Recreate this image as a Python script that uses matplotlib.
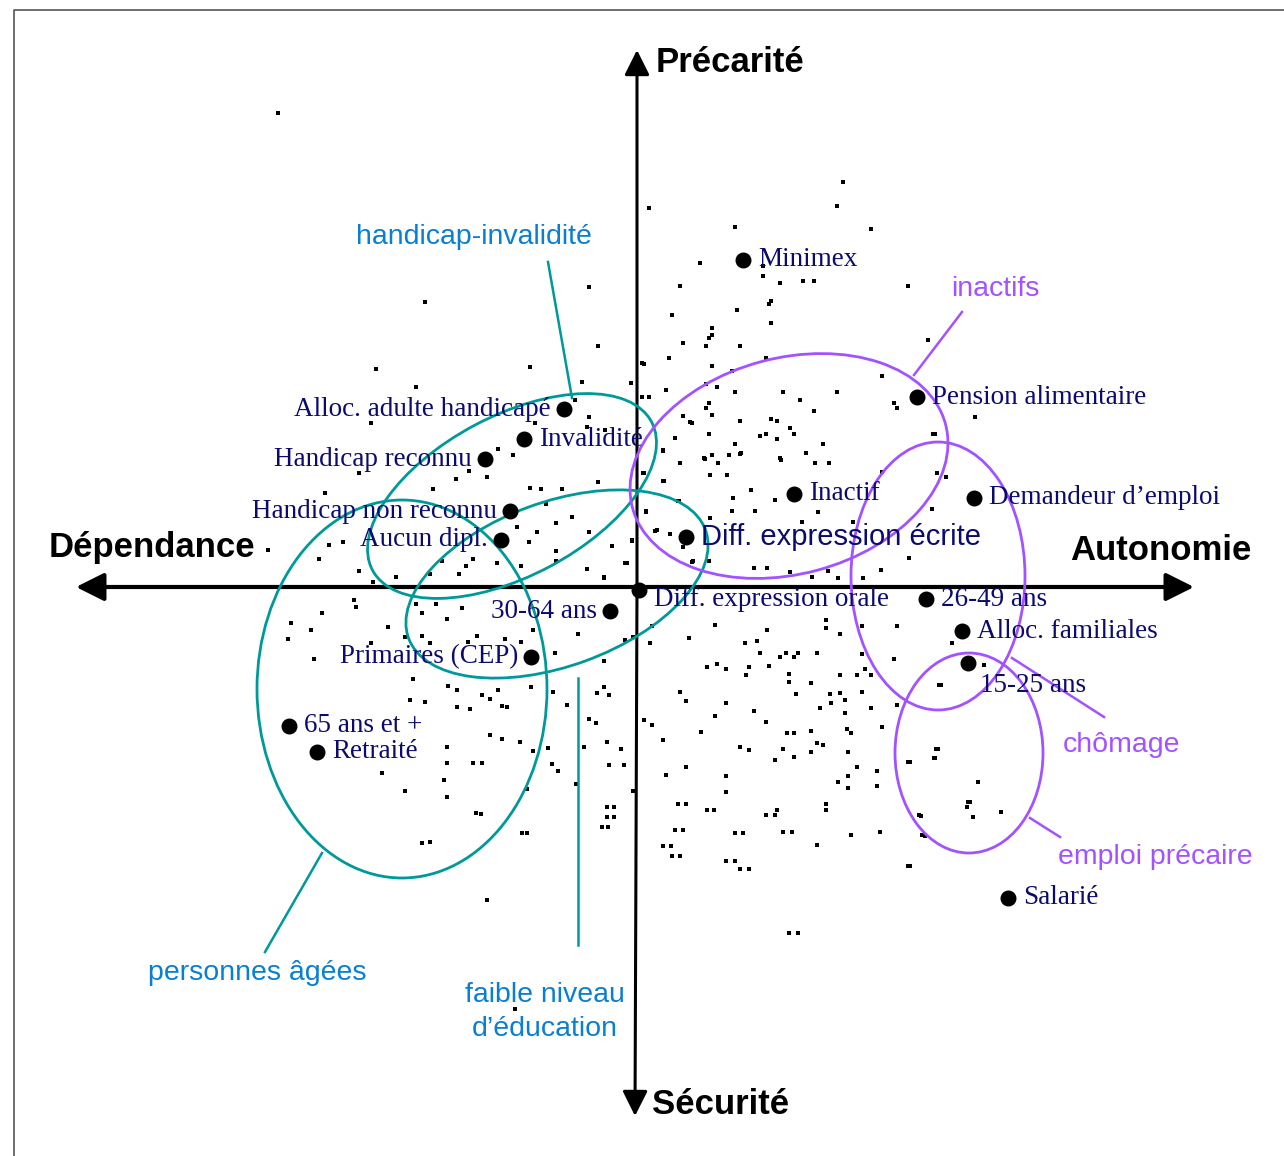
import numpy as np
import matplotlib
matplotlib.use('Agg')
import matplotlib.pyplot as plt
from matplotlib.patches import Ellipse
from matplotlib import font_manager

# --- data (map units = picture grid, y grows downwards) ---

# named modalities (big dots)
point_labels = ['Minimex', 'Pension alimentaire', 'Alloc. adulte handicapé', 'Invalidité',
                'Handicap reconnu', 'Inactif', 'Demandeur d’emploi', 'Handicap non reconnu',
                'Aucun dipl.', 'Diff. expression écrite', 'Diff. expression orale', '26-49 ans',
                '30-64 ans', 'Alloc. familiales', 'Primaires (CEP)', '15-25 ans', '65 ans et +',
                'Retraité', 'Salarié']
point_x = [743, 917, 564, 524, 485, 794, 974, 510, 501, 686, 639, 926, 610, 962, 531, 968, 289, 317, 1008]
point_y = [260, 397, 409, 439, 459, 494, 498, 511, 540, 537, 590, 599, 611, 631, 657, 663, 726, 752, 898]
point_side = ['r', 'r', 'l', 'r', 'l', 'r', 'r', 'l', 'l', 'r', 'o', 'r', 'l', 'r', 'l', 'b', 'r', 'r', 'r']

# groups (ellipses)
group_names = ['handicap-invalidité', 'faible niveau\nd’éducation', 'personnes âgées',
               'inactifs', 'chômage', 'emploi précaire']
group_kind = ['teal', 'teal', 'teal', 'purple', 'purple', 'purple']
group_cx = [512, 557, 402, 789, 938, 969]
group_cy = [496, 584, 689, 466, 576, 753]
group_w = [316, 316, 290, 324, 174, 148]
group_h = [160, 164, 378, 216, 268, 200]
group_tilt = [28, 20, 0, 15, 0, 0]
# leader line: ellipse side -> label side
leader_x0 = [572, 578, 322, 914, 1012, 1030]
leader_y0 = [398, 678, 853, 375, 658, 818]
leader_x1 = [548, 578, 265, 962, 1104, 1060]
leader_y1 = [262, 945, 952, 312, 717, 837]
label_x = [474, 545, 257, 995, 1121, 1155]
label_y = [237, 1012, 973, 289, 745, 857]

# individuals (small dots)
bg_x = [
    278,
    589, 598, 425, 376, 530, 416, 582, 631, 575, 589, 535, 371, 605, 587, 663, 690, 498, 513,
    487, 469, 456, 359, 325, 433, 541, 562, 598, 530, 643, 663, 642,
    843, 649, 837, 735, 871, 700, 763, 763, 780, 803, 814, 680, 908, 771, 769, 737, 672, 771,
    712, 712, 709, 683, 706, 740, 928, 669, 644, 712, 766, 732, 882, 706, 717, 666, 735, 783,
    837, 642, 649, 800, 709, 706, 814, 894, 897, 712, 683, 692, 740, 771, 777, 790, 675, 709,
    760, 766, 777, 794, 933, 735, 823, 663, 740, 806, 704, 712, 729, 780, 975, 935,
    680, 705, 718, 741, 781, 815, 829, 644, 710, 727, 664, 751, 733, 775, 679, 646, 732, 755,
    818, 710, 802, 853, 932, 946, 937, 882, 657, 670, 632, 612, 627, 693, 709, 754, 767, 790,
    812, 828, 838, 863, 881, 909, 604,
    343, 329, 319, 268, 359, 556, 572, 546, 589, 537, 529, 556, 556, 587, 604, 625, 632, 646,
    655, 670, 683, 692, 517, 521, 678, 430, 442, 473, 459, 466, 497, 396, 373,
    354, 356, 322, 291, 311, 288, 388, 371, 314, 405, 416, 436, 422, 447, 462, 422, 430, 477,
    468, 505, 521, 533, 578, 555, 625, 633, 604, 413, 448, 457, 482, 490, 502, 507, 457, 470,
    425, 410, 498, 531, 553, 567, 597, 604, 609, 589, 596, 490, 502, 520, 447, 447, 473, 482,
    533, 548, 552, 558, 584, 607, 621, 609, 624, 444, 382, 405, 447, 527, 576, 607, 607, 602,
    476, 522, 430, 422,
    652, 715, 767, 826, 826, 840, 862, 897, 689, 745, 757, 650, 760, 786, 798, 817, 780, 794,
    862, 894, 952, 707, 717, 726, 749, 769, 746, 789, 789, 811, 840, 857, 865, 871, 680, 686,
    726, 754, 796, 830, 840, 845, 862, 820, 831, 845, 871, 897, 939, 644, 652, 715, 766, 701,
    663, 740, 749, 787, 794, 811, 783, 817, 823, 847, 851, 882, 775, 794, 811, 848, 857, 686,
    666, 726, 726, 838, 848, 848, 877, 877, 908, 936, 934, 678, 707, 766, 777, 826, 826, 968,
    919, 675, 735, 783, 851, 880, 922, 663, 672, 726, 740, 817, 908, 789,
    941, 984, 938, 935, 910, 978, 970, 967, 973, 1001, 921, 925, 910, 633, 481, 527, 487, 515,
    614, 614, 608, 686, 714, 775, 683, 743, 792, 671, 680, 735, 749, 798,
]
bg_y = [
    113,
    287, 346, 302, 369, 367, 387, 382, 383, 400, 417, 423, 423, 430, 427, 450, 422, 449, 455,
    477, 471, 479, 473, 493, 489, 489, 489, 482, 488, 473, 481, 363,
    182, 208, 206, 227, 229, 263, 266, 276, 283, 281, 281, 286, 286, 301, 304, 310, 315, 323,
    328, 335, 338, 343, 346, 346, 340, 358, 364, 366, 358, 371, 376, 384, 387, 390, 392, 392,
    392, 397, 397, 400, 403, 408, 411, 403, 408, 415, 416, 423, 421, 419, 421, 428, 438, 434,
    436, 434, 439, 434, 434, 444, 444, 451, 454, 453, 458, 455, 455, 458, 417, 434,
    463, 459, 463, 453, 460, 463, 463, 473, 475, 475, 481, 490, 498, 500, 501, 512, 511, 511,
    512, 518, 522, 522, 509, 477, 473, 472, 530, 534, 540, 546, 563, 561, 561, 568, 568, 572,
    577, 571, 578, 578, 570, 558, 578,
    542, 545, 559, 550, 571, 523, 517, 504, 532, 532, 542, 551, 561, 569, 577, 563, 541, 511,
    531, 534, 547, 562, 527, 566, 501, 574, 561, 559, 574, 566, 563, 577, 582,
    600, 607, 613, 623, 630, 639, 627, 643, 659, 637, 604, 604, 613, 619, 608, 636, 643, 636,
    642, 639, 642, 630, 634, 653, 640, 637, 661, 679, 686, 690, 695, 699, 706, 707, 707, 709,
    702, 700, 690, 687, 692, 705, 693, 687, 695, 719, 723, 735, 739, 742, 747, 763, 763, 763,
    751, 748, 764, 771, 747, 742, 749, 765, 765, 780, 773, 791, 797, 789, 784, 807, 817, 827,
    813, 833, 842, 843,
    626, 625, 630, 620, 628, 634, 626, 626, 638, 643, 641, 643, 653, 653, 653, 653, 657, 657,
    654, 659, 643, 667, 664, 669, 667, 666, 675, 674, 682, 683, 675, 675, 669, 675, 692, 701,
    703, 711, 694, 694, 693, 700, 692, 708, 703, 713, 708, 705, 685, 720, 725, 716, 722, 732,
    740, 747, 750, 733, 733, 731, 749, 743, 745, 729, 733, 727, 760, 757, 752, 752, 767, 767,
    775, 776, 792, 782, 776, 788, 771, 786, 762, 749, 758, 804, 810, 815, 810, 804, 810, 802,
    815, 830, 833, 832, 835, 832, 835, 846, 856, 861, 869, 845, 866, 933,
    685, 665, 749, 758, 762, 782, 802, 807, 817, 812, 816, 836, 866, 791, 814, 833, 900, 1009,
    807, 817, 827, 804, 810, 815, 830, 833, 832, 846, 856, 861, 869, 933,
]

# --- styles ---
installed = {f.name for f in font_manager.fontManager.ttflist}
NARROW = 'Liberation Sans Narrow' if 'Liberation Sans Narrow' in installed else 'Liberation Sans'
NAVY = '#0b0b6e'
COLORS = {'teal': ('#009999', '#0a7fd2'), 'purple': ('#a352ff', '#a352ff')}
ORIGIN_X, ORIGIN_Y = 637, 587

fig = plt.figure(figsize=(12.84, 11.56), dpi=100)
ax = fig.add_axes([0, 0, 1, 1])
ax.set_xlim(0, 1284)
ax.set_ylim(1156, 0)
ax.axis('off')

# frame (top and left edges only are visible in the source)
ax.plot([0.011, 0.011, 1.0], [0.0, 0.991, 0.991], transform=ax.transAxes,
        color='#555555', lw=1.2, solid_capstyle='butt')

# axes with arrows
arrow = dict(arrowstyle='-|>,head_length=0.9,head_width=0.45', color='black', shrinkA=0, shrinkB=0)
ax.annotate('', xy=(1194, ORIGIN_Y), xytext=(ORIGIN_X, ORIGIN_Y),
            arrowprops=dict(arrow, lw=3.0, mutation_scale=19))
ax.annotate('', xy=(76, ORIGIN_Y), xytext=(ORIGIN_X, ORIGIN_Y),
            arrowprops=dict(arrow, lw=3.0, mutation_scale=19))
ax.annotate('', xy=(ORIGIN_X, 50), xytext=(ORIGIN_X, ORIGIN_Y),
            arrowprops=dict(arrow, lw=2.2, mutation_scale=17))
ax.annotate('', xy=(ORIGIN_X - 2, 1116), xytext=(ORIGIN_X, ORIGIN_Y),
            arrowprops=dict(arrow, lw=2.2, mutation_scale=17))

ax.text(656, 62, 'Précarité', fontsize=25, fontweight='bold', family=NARROW, va='center', ha='left')
ax.text(652, 1105, 'Sécurité', fontsize=25, fontweight='bold', family=NARROW, va='center', ha='left')
ax.text(49, 548, 'Dépendance', fontsize=25, fontweight='bold', family='Liberation Sans', va='center', ha='left')
ax.text(1252, 551, 'Autonomie', fontsize=25, fontweight='bold', family='Liberation Sans', va='center', ha='right')

# small dots: individuals
ax.scatter(bg_x, bg_y, s=5, marker='s', color='black', linewidths=0, zorder=2)

# groups
for i, name in enumerate(group_names):
    line_c, text_c = COLORS[group_kind[i]]
    # y axis is flipped, so a tilt upwards on screen is a negative angle in data space
    ax.add_patch(Ellipse((group_cx[i], group_cy[i]), group_w[i], group_h[i], angle=-group_tilt[i],
                         fill=False, edgecolor=line_c, lw=2.0, zorder=3))
    ax.plot([leader_x0[i], leader_x1[i]], [leader_y0[i], leader_y1[i]], color=line_c, lw=1.8, zorder=3)
    ax.text(label_x[i], label_y[i], name, color=text_c, fontsize=20.5, family=NARROW,
            ha='center', va='center', linespacing=1.35, zorder=4)

# named modalities
ax.scatter(point_x, point_y, s=110, color='black', zorder=5)
offsets = {'r': (15, 0, 'left'), 'l': (-13, 0, 'right'), 'b': (12, 22, 'left'), 'o': (15, 10, 'left')}
for lab, x, y, side in zip(point_labels, point_x, point_y, point_side):
    dx, dy, ha = offsets[side]
    if lab.startswith('Diff. expression é'):
        fam, size = NARROW, 21
    else:
        fam, size = 'Liberation Serif', 19.5
    ax.text(x + dx, y + dy, lab, color=NAVY, fontsize=size, family=fam,
            ha=ha, va='center', zorder=6)

fig.savefig('out.png', dpi=100, facecolor='white')
